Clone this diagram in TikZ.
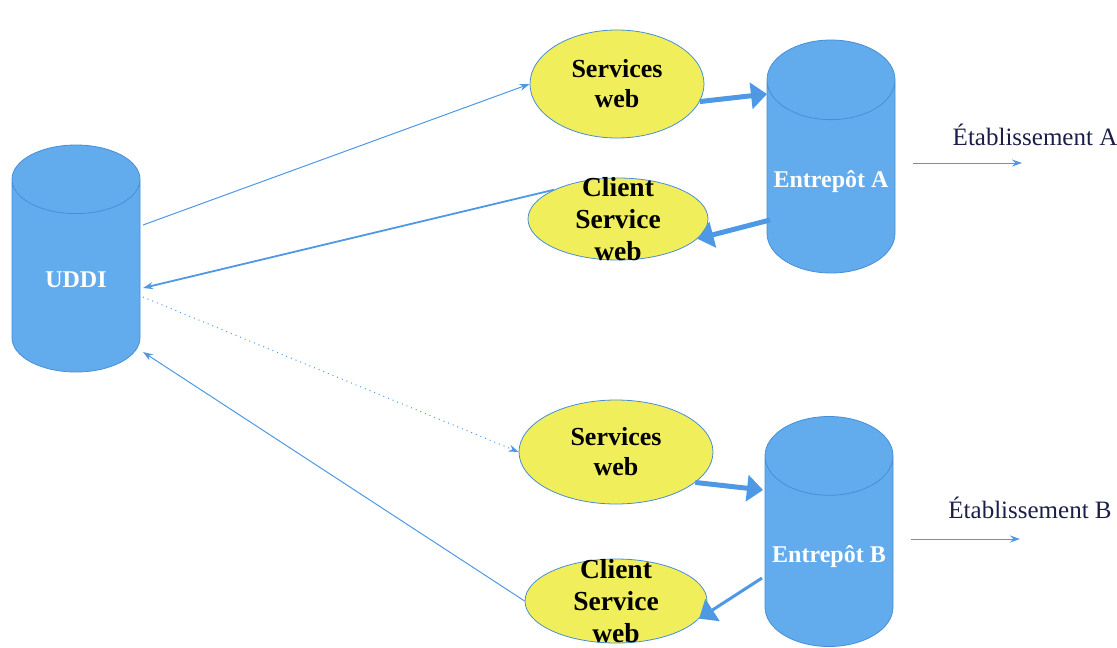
\documentclass[tikz,border=0pt]{standalone}
\usepackage{fontspec}
\setmainfont{Liberation Serif}
\usetikzlibrary{shapes.geometric,arrows.meta}
\definecolor{cylblue}{RGB}{98,172,238}
\definecolor{cylline}{RGB}{72,142,214}
\definecolor{svcyellow}{RGB}{241,238,92}
\definecolor{arrowblue}{RGB}{78,152,228}
\definecolor{etabnavy}{RGB}{28,30,72}
\tikzset{
  cyl/.style={cylinder, shape border rotate=90, aspect=1.05, draw=cylline,
    line width=0.4pt, fill=cylblue, minimum width=64pt, anchor=shape center,
    inner xsep=1pt, text=white, font=\bfseries\fontsize{12}{14}\selectfont},
  svc/.style={ellipse, draw=cylline, line width=0.4pt, fill=svcyellow,
    inner sep=0pt, align=center, font=\bfseries\fontsize{13}{15}\selectfont},
  clitext/.style={align=center, inner sep=0pt,
    font=\bfseries\fontsize{13.75}{16}\selectfont},
  etab/.style={text=etabnavy, font=\fontsize{12.5}{14}\selectfont},
  wsarrow/.style={draw=arrowblue, line width=0.5pt, -{Stealth[length=5pt,width=3.5pt]}},
  bigarrow/.style={draw=arrowblue, line width=2.5pt, -{Triangle[length=8pt,width=13pt]}}
}
\begin{document}
\begin{tikzpicture}[x=0.5pt,y=-0.5pt]
      \useasboundingbox (0,0) rectangle (1117,647);
      %% Warehouses and registry
      \node[cyl, minimum height=113.5pt] (uddi) at (76,258.5) {UDDI};
      \node[cyl, minimum height=116.5pt, aspect=0.67] (entA) at (831,156.5) {Entrepôt A};
      \node[cyl, minimum height=115pt, aspect=0.67] (entB) at (829,531.5) {Entrepôt B};
      %% Web services
      \node[svc, minimum width=87pt, minimum height=54pt] (svcA) at (617,84) {Services\\web};
      \node[svc, minimum width=90pt, minimum height=41pt,
        label={[clitext]center:Client\\Service\\web}] (cliA) at (618,219) {};
      \node[svc, minimum width=97pt, minimum height=52pt] (svcB) at (616,452) {Services\\web};
      \node[svc, minimum width=91pt, minimum height=42pt,
        label={[clitext]center:Client\\Service\\web}] (cliB) at (616,601) {};
      %% Establishments
      \node[etab] (etabA) at (1035,135) {Établissement A};
      \node[etab] (etabB) at (1030,508) {Établissement B};
      \coordinate (etabAend) at (1022,163);
      \coordinate (etabBend) at (1020,539);
      %% Registry arrows
      \draw[wsarrow] ([xshift=33.5pt,yshift=16.75pt]uddi.shape center) -- (svcA.west);
      \draw[wsarrow, line width=0.9pt] (cliA.north west) -- ([xshift=33.5pt,yshift=-14.75pt]uddi.shape center);
      \draw[wsarrow, dotted] ([xshift=33.5pt,yshift=-19.25pt]uddi.shape center) -- (svcB.west);
      \draw[wsarrow] (cliB.west) -- ([xshift=33.5pt,yshift=-46.75pt]uddi.shape center);
      %% Warehouse arrows
      \draw[bigarrow] (svcA.-12) -- ([xshift=-32pt,yshift=31.25pt]entA.shape center);
      \draw[bigarrow] ([xshift=-30.5pt,yshift=-31.75pt]entA.shape center) -- (cliA.-14);
      \draw[bigarrow] (svcB.-21) -- ([xshift=-33pt,yshift=20.75pt]entB.shape center);
      \draw[bigarrow, line width=1.5pt] ([xshift=-33.5pt,yshift=-23.25pt]entB.shape center) -- (cliB.-12);
      %% Outgoing arrows
      \draw[wsarrow, shorten <=9pt] (entA.east |- etabAend) -- (etabAend);
      \draw[wsarrow, shorten <=9pt] (entB.east |- etabBend) -- (etabBend);
    \end{tikzpicture}
\end{document}
